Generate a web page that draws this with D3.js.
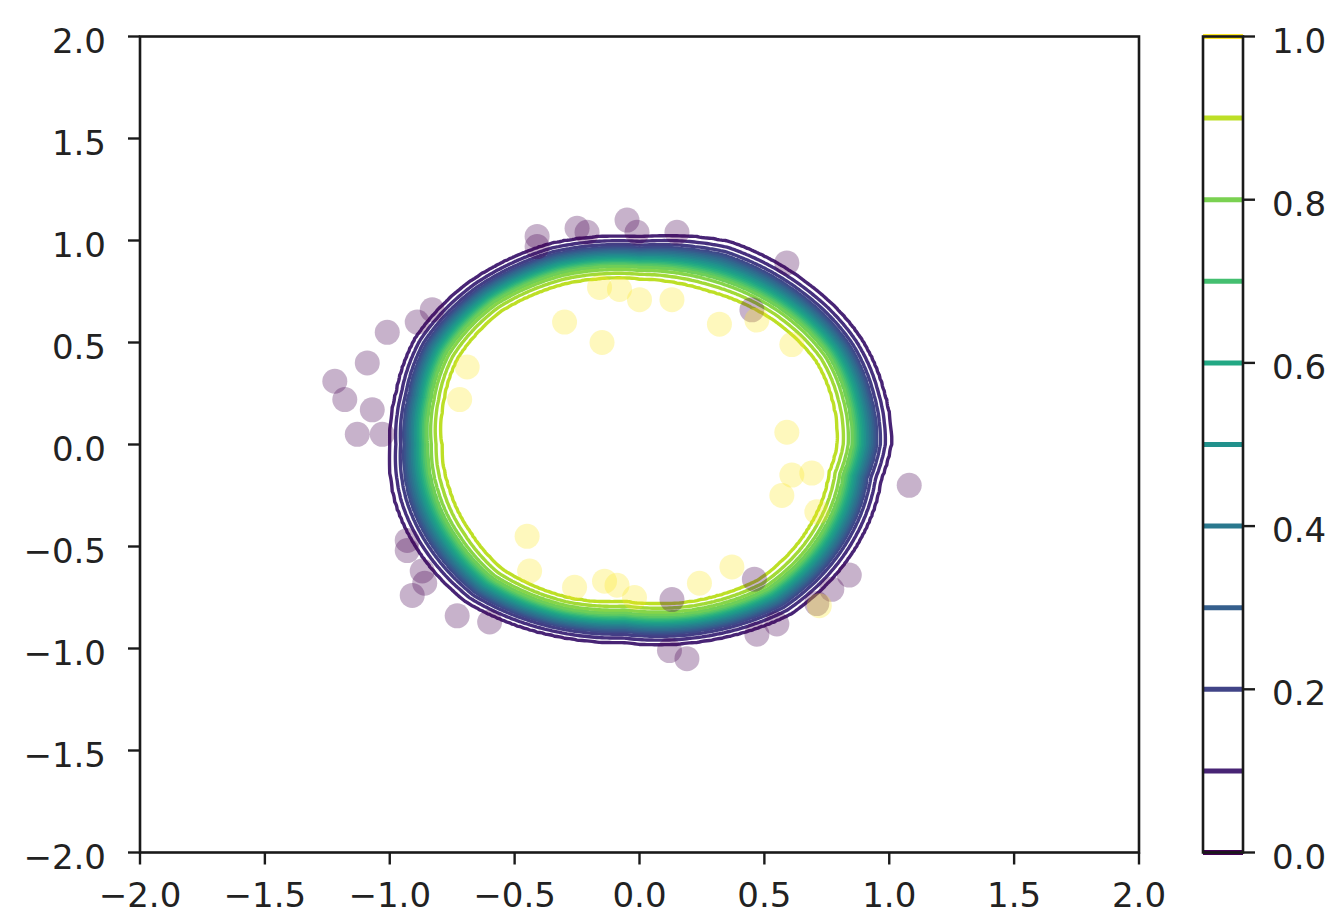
<!DOCTYPE html>
<html>
<head>
<meta charset="utf-8">
<script src="https://cdnjs.cloudflare.com/ajax/libs/d3/7.8.5/d3.min.js"></script>
<style>
	body{margin:0;background:#fff}
	text{font-family:'DejaVu Sans',sans-serif;font-size:34px;fill:#222}
</style>
</head>
<body>
<svg id="chart" width="1334" height="918"></svg>
<script>
var xTicks = [-2,-1.5,-1,-0.5,0,0.5,1,1.5,2]
var yTicks = [-2,-1.5,-1,-0.5,0,0.5,1,1.5,2]
var barLevels = [0,0.1,0.2,0.3,0.4,0.5,0.6,0.7,0.8,0.9,1]
var barTicks = [0,0.2,0.4,0.6,0.8,1]

// decision band: angle (deg) -> radius of outer (p~0.1) and inner (p~0.9) edge
var ringAngles  = [0,15,30,50,70,90,110,130,150,165,180,196,212,228,250,266,285,306,333,350]
var outerRadius = [1.01,1.015,1.03,1.04,1.06,1.02,1.05,1.05,1.04,1.01,1.0,1.02,1.03,1.04,1.0,0.975,1.0,1.03,1.0,0.985]
var innerRadius = [0.79,0.80,0.815,0.81,0.80,0.81,0.84,0.855,0.84,0.81,0.79,0.79,0.80,0.82,0.80,0.77,0.795,0.815,0.785,0.77]

// probability across the band (0 = outer edge, 1 = inner edge)
var bandPos  = [-0.1,0,0.12,0.21,0.28,0.5,0.72,0.79,0.88,1,1.1]
var bandProb = [0,0.1,0.14,0.18,0.22,0.5,0.78,0.82,0.86,0.9,1]
var lineLevels = d3.range(0.1,0.91,0.04)

var class0 = [[-0.41,1.02],[-0.41,0.97],[-0.25,1.06],[-0.21,1.04],[-0.05,1.10],[-0.01,1.04],[0.15,1.04],
	[0.59,0.89],[0.45,0.66],[-0.83,0.66],[-0.89,0.60],[-1.01,0.55],[-1.09,0.40],[-1.22,0.31],[-1.18,0.22],
	[-1.07,0.17],[-1.13,0.05],[-1.03,0.05],[1.08,-0.20],[-0.93,-0.47],[-0.93,-0.52],[-0.87,-0.62],[-0.86,-0.68],
	[-0.91,-0.74],[-0.73,-0.84],[-0.60,-0.87],[0.13,-0.76],[0.12,-1.01],[0.19,-1.05],[0.47,-0.93],[0.55,-0.88],
	[0.71,-0.78],[0.77,-0.71],[0.84,-0.64],[0.46,-0.66]]
var class1 = [[-0.16,0.77],[-0.08,0.76],[0.00,0.71],[0.13,0.71],[-0.30,0.60],[-0.15,0.50],[0.32,0.59],[0.47,0.61],
	[0.61,0.49],[-0.69,0.38],[-0.72,0.22],[0.59,0.06],[0.61,-0.15],[0.69,-0.14],[0.57,-0.25],[0.71,-0.33],
	[-0.45,-0.45],[-0.44,-0.62],[-0.26,-0.70],[-0.14,-0.67],[-0.09,-0.69],[-0.02,-0.75],[0.24,-0.68],[0.37,-0.60],[0.72,-0.79]]

var svg = d3.select('#chart')
var L = 140, R = 1139, T = 36.5, B = 852.5
var cbL = 1203, cbR = 1243

var xs = d3.scaleLinear().domain([-2,2]).range([L,R])
var ys = d3.scaleLinear().domain([-2,2]).range([B,T])
var cs = d3.scaleLinear().domain([0,1]).range([B,T])
var fmt = d3.format('.1f')

// field on a grid, from the ring table
function radiusAt(radii,deg){
	var a = (deg + 360) % 360, n = ringAngles.length
	for (var k = 0; k < n; k++){
		var a0 = ringAngles[k], a1 = k + 1 < n ? ringAngles[k+1] : 360
		if (a >= a0 && a < a1){
			var t = (a - a0) / (a1 - a0)
			return radii[k] + t * (radii[(k+1)%n] - radii[k])
		}
	}
	return radii[0]
}
var bandScale = d3.scaleLinear().domain(bandPos).range(bandProb).clamp(true)
var step = 0.01, n = 401
var values = new Array(n*n)
for (var j = 0; j < n; j++){
	for (var i = 0; i < n; i++){
		var x = -2 + i*step, y = 2 - j*step
		var r = Math.sqrt(x*x + y*y), deg = Math.atan2(y,x) * 180 / Math.PI
		var r0 = radiusAt(outerRadius,deg), r1 = radiusAt(innerRadius,deg)
		values[i + j*n] = bandScale((r0 - r) / (r0 - r1))
	}
}
var gridPath = d3.geoPath(d3.geoTransform({point:function(gx,gy){
	this.stream.point(xs(-2 + (gx - 0.5)*step), ys(2 - (gy - 0.5)*step))
}}))

var contours = d3.contours().size([n,n]).thresholds(lineLevels)(values)
var lines = svg.append('g').attr('id','contours')
contours.forEach(function(c){
	lines.append('path').attr('d',gridPath(c))
		.attr('fill','none')
		.attr('stroke',d3.interpolateViridis(c.value))
		.attr('stroke-width',3.4)
		.attr('stroke-linejoin','round')
})

// scatter
var dots = svg.append('g').attr('id','points')
class0.forEach(function(d){
	dots.append('circle').attr('cx',xs(d[0])).attr('cy',ys(d[1])).attr('r',12.5)
		.attr('fill','#440154').attr('fill-opacity',0.3)
})
class1.forEach(function(d){
	dots.append('circle').attr('cx',xs(d[0])).attr('cy',ys(d[1])).attr('r',12.5)
		.attr('fill','#fde725').attr('fill-opacity',0.3)
})

// axes
var ax = svg.append('g').attr('id','axes')
ax.append('rect').attr('x',L).attr('y',T).attr('width',R-L).attr('height',B-T)
	.attr('fill','none').attr('stroke','#1a1a1a').attr('stroke-width',2.6)
xTicks.forEach(function(t){
	ax.append('line').attr('x1',xs(t)).attr('x2',xs(t)).attr('y1',B).attr('y2',B+12)
		.attr('stroke','#1a1a1a').attr('stroke-width',2.4)
	ax.append('text').attr('x',xs(t)).attr('y',907).attr('text-anchor','middle').text(fmt(t))
})
yTicks.forEach(function(t){
	ax.append('line').attr('x1',L-12).attr('x2',L).attr('y1',ys(t)).attr('y2',ys(t))
		.attr('stroke','#1a1a1a').attr('stroke-width',2.4)
	ax.append('text').attr('x',106).attr('y',ys(t)+16).attr('text-anchor','end').text(fmt(t))
})

// colorbar
var cb = svg.append('g').attr('id','colorbar')
cb.append('rect').attr('x',cbL).attr('y',T).attr('width',cbR-cbL).attr('height',B-T).attr('fill','#fff')
barLevels.forEach(function(v){
	cb.append('line').attr('x1',cbL).attr('x2',cbR).attr('y1',cs(v)).attr('y2',cs(v))
		.attr('stroke',d3.interpolateViridis(v)).attr('stroke-width',5)
})
cb.append('rect').attr('x',cbL).attr('y',T).attr('width',cbR-cbL).attr('height',B-T)
	.attr('fill','none').attr('stroke','#1a1a1a').attr('stroke-width',2.6)
barTicks.forEach(function(t){
	cb.append('line').attr('x1',cbR).attr('x2',cbR+12).attr('y1',cs(t)).attr('y2',cs(t))
		.attr('stroke','#1a1a1a').attr('stroke-width',2.4)
	cb.append('text').attr('x',1272).attr('y',cs(t)+16).text(fmt(t))
})
</script>
</body>
</html>
